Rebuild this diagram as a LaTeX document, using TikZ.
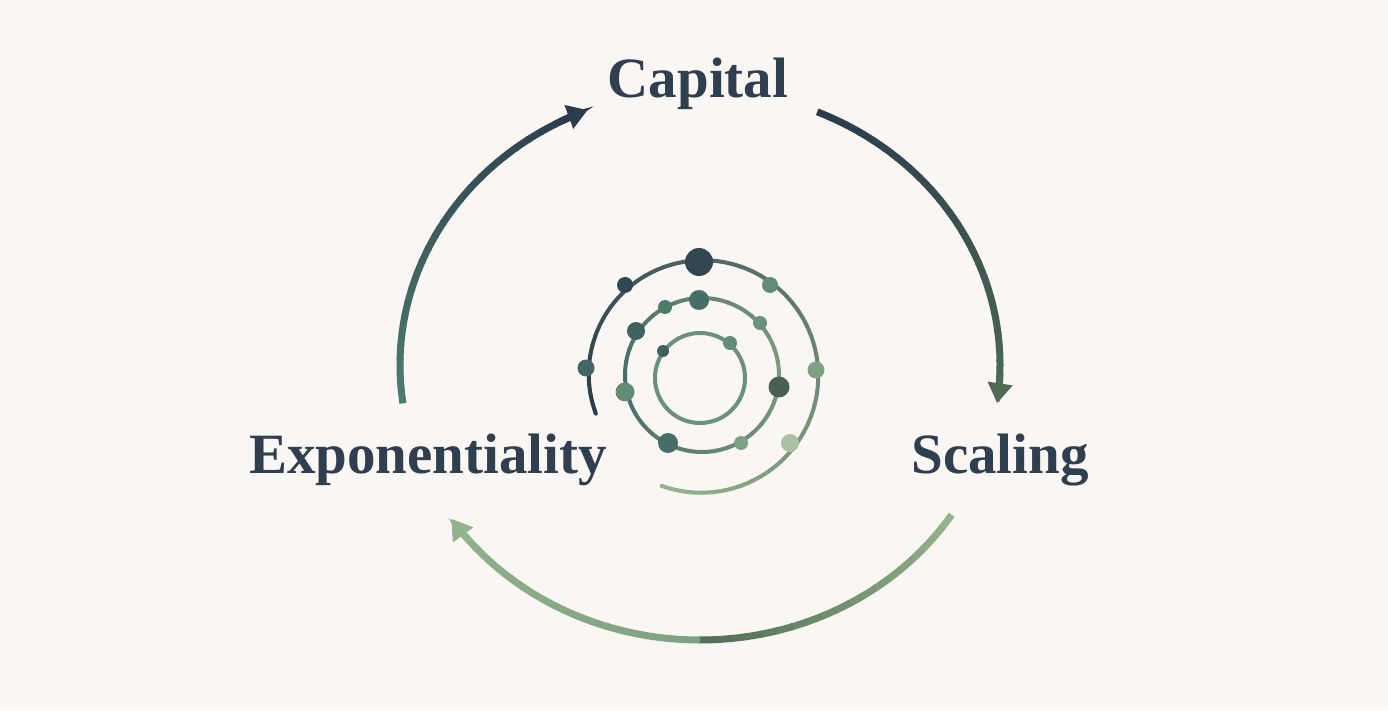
\documentclass[tikz,border=0pt]{standalone}
\usepackage{fontspec}
\setmainfont{Liberation Serif}
\usetikzlibrary{arrows.meta}
\definecolor{bgcol}{HTML}{F9F6F3}
\definecolor{navy}{HTML}{2A3B4C}
\definecolor{teal}{HTML}{4E7A6E}
\definecolor{moss}{HTML}{4F6B55}
\definecolor{sage}{HTML}{93B38C}
\definecolor{txtcol}{HTML}{2F3F4F}
\tikzset{%
	lbl/.style  = {text=txtcol, font=\fontsize{57}{62}\selectfont\bfseries},
	ring/.style = {line width=7pt, line cap=butt},
	spir/.style = {line width=4pt, line cap=round},
	dot/.style  = {circle, inner sep=0pt, minimum size=#1},
}
\begin{document}
\begin{tikzpicture}[x=1pt,y=1pt]
	\fill[bgcol] (0,0) rectangle (1388,710);
	% labels
	\node[lbl] (cap) at (698,626) {Capital};
	\node[lbl] (exp) at (428,250) {Exponentiality};
	\node[lbl] (sca) at (1000,250) {Scaling};
	% big cycle
	\coordinate (c) at (700,345);
	\foreach \a in {188,185,...,118}{
		\pgfmathsetmacro\p{(\a-113)/75*100}
		\draw[ring, teal!\p!navy] (c) ++(\a:300 and 275) arc[start angle=\a, end angle=\a-3.3, x radius=300, y radius=275];
	}
	\draw[ring, navy, -{Triangle[length=20pt,width=24pt]}] (c) ++(118:300 and 275) arc[start angle=118, end angle=112, x radius=300, y radius=275];
	\foreach \a in {67,64,...,-2}{
		\pgfmathsetmacro\p{(67-\a)/75*100}
		\draw[ring, moss!\p!navy] (c) ++(\a:300 and 275) arc[start angle=\a, end angle=\a-3.3, x radius=300, y radius=275];
	}
	\draw[ring, moss, -{Triangle[length=20pt,width=24pt]}] (c) ++(-2:300 and 275) arc[start angle=-2, end angle=-8, x radius=300, y radius=275];
	\foreach \a in {-33,-36,...,-87}{
		\pgfmathsetmacro\p{(-33-\a)/57*100}
		\draw[ring, moss!\p!sage] (c) ++(\a:300 and 275) arc[start angle=\a, end angle=\a-3.3, x radius=300, y radius=275];
	}
	\foreach \a in {-90,-93,...,-138}{
		\pgfmathsetmacro\p{(-90-\a)/50*25+70}
		\draw[ring, sage!\p!teal] (c) ++(\a:300 and 275) arc[start angle=\a, end angle=\a-3.3, x radius=300, y radius=275];
	}
	\draw[ring, sage, -{Triangle[length=20pt,width=24pt]}] (c) ++(-140:300 and 275) arc[start angle=-140, end angle=-146, x radius=300, y radius=275];
	% spiral
	\coordinate (s) at (702,335);
	\foreach \a in {200,195,...,-105}{
		\pgfmathsetmacro\p{(200-\a)/305*100}
		\pgfmathsetmacro\r{113+(200-\a)/305*5}
		\draw[spir, sage!\p!navy] (s) ++(\a:\r) arc[start angle=\a, end angle=\a-5, radius=\r];
	}
	\foreach \a in {0,10,...,350}{
		\pgfmathsetmacro\p{abs(\a-180)/180*100}
		\draw[spir, sage!\p!teal!80!navy] (s) ++(\a:77) arc[start angle=\a, end angle=\a+10.5, radius=77];
	}
	\draw[spir, sage!40!teal] (700,332) circle[radius=45];
	% dots
	\foreach \x/\y/\d/\col in {625/425/16/navy!80!teal, 699/448/28/navy!80!teal, 770/425/16/teal!70!sage, 816/340/17/sage!70!teal,
		586/342/17/teal!70!navy, 790/267/18/sage!80!white, 665/403/14/teal, 699/410/20/teal!80!navy, 636/379/18/teal!60!navy,
		760/387/14/teal!60!sage, 625/318/19/teal!70!sage, 779/323/21/moss!80!navy, 668/267/20/teal!80!navy,
		741/267/14/sage!70!teal, 663/359/12/teal!60!navy, 730/367/14/teal!70!sage}{
		\node[dot=\d pt, fill=\col] (d\x\y) at (\x,\y) {};
	}
\end{tikzpicture}
\end{document}
